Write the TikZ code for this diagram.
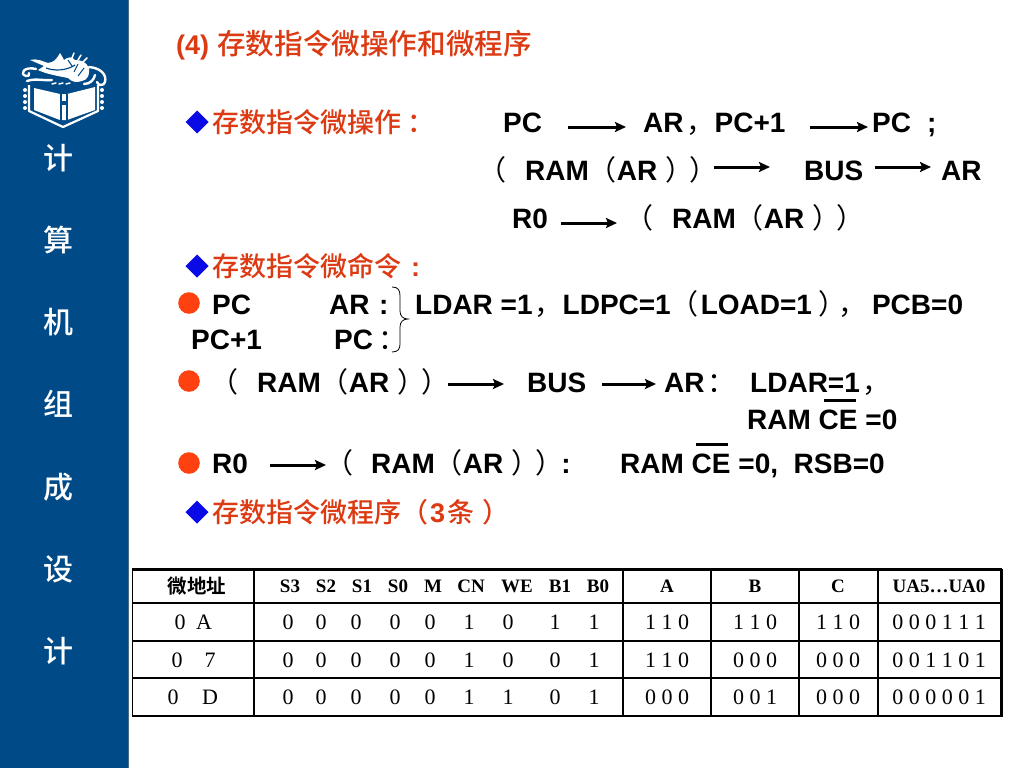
\documentclass[tikz,border=0pt]{standalone}
\usepackage{fontspec}
\setmainfont{Liberation Sans}
\newfontfamily\cj{Noto Sans CJK SC Medium}
\newfontfamily\cjrr{Noto Sans CJK SC}
\newcommand\pn[1]{{\mdseries\cjrr #1}}
\newfontfamily\cjb{Noto Sans CJK SC Bold}
\newfontfamily\tms{Liberation Serif}
\usetikzlibrary{arrows.meta}
\definecolor{side}{HTML}{004A87}
\definecolor{redt}{HTML}{DC3A12}
\definecolor{bul}{HTML}{FF4010}
\definecolor{dia}{HTML}{0A0AE6}
\tikzset{
  x=1pt,y=-1pt,
  blk/.style={anchor=base west,inner sep=0,font=\fontsize{28}{30}\selectfont\bfseries,text=black},
  redh/.style={anchor=base west,inner sep=0,font=\fontsize{27}{30}\selectfont\cj,text=redt},
  sidec/.style={anchor=center,inner sep=0,font=\fontsize{30}{32}\selectfont\cj,text=white},
  hd/.style={anchor=center,inner sep=0,font=\fontsize{19}{22}\selectfont\tms\bfseries},
  dt/.style={anchor=center,inner sep=0,font=\fontsize{22}{24}\selectfont\tms},
  flow/.style={line width=3pt,-{Stealth[length=11pt,width=10pt,inset=2pt]}},
  diam/.style={fill=dia},
  bullet/.style={fill=bul},
  grid/.style={line width=1.5pt,black},
  edge/.style={line width=3pt,black},
  logo/.style={white,line width=2.4pt,line cap=round,line join=round},
}
\newcommand\dm[2]{\fill[diam] (#1-11.5,#2) -- (#1,#2-11.5) -- (#1+11.5,#2) -- (#1,#2+11.5) -- cycle;}
\newcommand\RA{RAM\pn{（}AR\kern8pt\pn{）}\kern-4pt\pn{）}}
\begin{document}
\begin{tikzpicture}
\useasboundingbox (0,0) rectangle (1024,768);
\fill[white] (0,0) rectangle (1024,768);
% sidebar
\fill[side] (0,0) rectangle (128,768);
\draw[gray!60!side,line width=1pt] (128,0) -- (128,768);
% logo: book
\draw[white,line width=2.2pt,line join=round] (29,85) -- (29,111) -- (63,127) -- (98,111) -- (98,85);
\fill[white] (34,88) -- (60,94) -- (67,94) -- (95,87) -- (95,110) -- (67,120) -- (60,120) -- (34,110) -- cycle;
\fill[side] (59.5,94) rectangle (61.5,123);
\fill[side] (66,94) rectangle (68,123);
\fill[side] (61,101) rectangle (66.5,105);
\foreach \yy in {90,96,102,108}{
  \fill[white] (25,\yy) circle (2);
  \fill[white] (102,\yy) circle (2);
}
% logo: dragon
\fill[white] (30,60) .. controls (38,58) and (44,62) .. (48,63) .. controls (54,62) and (56,60) .. (60,53) .. controls (62,56) and (63,58) .. (64,60) .. controls (68,57) and (72,56) .. (75,60) .. controls (82,60) and (86,62) .. (89,68) .. controls (90,74) and (88,80) .. (82,81) .. controls (76,83) and (72,82) .. (68,78) .. controls (58,76) and (46,74) .. (38,70) -- (44,66) -- cycle;
\draw[side,line width=1.2pt] (46,68) .. controls (54,71) and (66,71) .. (75,65);
\draw[side,line width=1pt] (68,60) -- (72,66);
\draw[side,line width=1pt] (78,64) -- (74,72);
\draw[side,line width=1pt] (84,68) -- (78,76);
\draw[logo] (36,69) .. controls (24,66) and (19,74) .. (26,76) .. controls (28,77) and (30,75) .. (29,73);
\draw[logo] (27,81) .. controls (36,78) and (44,81) .. (52,80);
\draw[logo] (89,67) .. controls (100,68) and (107,74) .. (105,82) .. controls (104,86) and (98,86) .. (97,82);
\draw[logo] (84,84) .. controls (90,84) and (94,80) .. (95,75);
\draw[logo,line width=1.5pt] (52,84) -- (56,83) (59,84) -- (63,83) (66,84) -- (70,83);
\draw[logo,line width=1.5pt] (72,58) -- (74,53) (78,60) -- (81,55) (83,62) -- (87,58);
% sidebar text
\node[sidec] (s1) at (58,158) {计};
\node[sidec] (s2) at (58,240) {算};
\node[sidec] (s3) at (58,322) {机};
\node[sidec] (s4) at (58,404) {组};
\node[sidec] (s5) at (58,487) {成};
\node[sidec] (s6) at (58,569) {设};
\node[sidec] (s7) at (58,651) {计};
% title
\node[redh,font=\fontsize{27}{30}\selectfont\bfseries] (t0) at (176,55) {(4)};
\node[redh,font=\fontsize{28.6}{30}\selectfont\cj] (t1) at (217,55) {存数指令微操作和微程序};
% headings
\dm{197}{122}
\node[redh] (h1) at (212,132) {存数指令微操作\kern6pt ：};
\dm{197}{266}
\node[redh] (h2) at (212,276) {存数指令微命令\kern10pt\bfseries\fontspec{Liberation Sans}:};
\dm{197}{512}
\node[redh] (h3) at (212,522) {存数指令微程序（\kern2pt{\bfseries\fontspec{Liberation Sans}3}\kern2pt 条\kern8pt ）};
% first block
\node[blk] (a1) at (503,132) {PC};
\coordinate (a1s) at (568,127); \coordinate (a1e) at (626,127);
\draw[flow] (a1s) -- (a1e);
\node[blk] (a2) at (643,132) {AR\kern3pt\pn{，}PC+1};
\coordinate (a2s) at (810,127); \coordinate (a2e) at (868,127);
\draw[flow] (a2s) -- (a2e);
\node[blk] (a3) at (872,132) {PC};
\node[blk] (a4) at (927,132) {;};
\node[blk] (b0) at (478,180) {\pn{（}};
\node[blk] (b1) at (525,180) {\RA};
\coordinate (b1s) at (714,167); \coordinate (b1e) at (770,167);
\draw[flow] (b1s) -- (b1e);
\node[blk] (b2) at (804,180) {BUS};
\coordinate (b2s) at (875,167); \coordinate (b2e) at (931,167);
\draw[flow] (b2s) -- (b2e);
\node[blk] (b3) at (941,180) {AR};
\node[blk] (c1) at (512,228) {R0};
\coordinate (c1s) at (561,223); \coordinate (c1e) at (617,223);
\draw[flow] (c1s) -- (c1e);
\node[blk] (c2) at (625,228) {\pn{（}};
\node[blk] (c3) at (672,228) {\RA};
% second block
\fill[bullet] (189,303) circle (10.8);
\node[blk] (d1) at (212,314) {PC};
\node[blk] (d2) at (329,314) {AR};
\node[blk] (d3) at (379,314) {:};
\node[blk] (d4) at (415,314) {LDAR =1\kern2pt\pn{，}LDPC=1\pn{（}\kern2pt LOAD=1\kern6pt\pn{）}\kern-8pt\pn{，}\kern6pt PCB=0};
\node[blk] (e1) at (191,349) {PC+1};
\node[blk] (e2) at (334,349) {PC\kern5pt\pn{：}};
\draw[black,line width=0.8pt] (392,287) .. controls (398,287) and (400,290) .. (400,296) -- (400,311) .. controls (400,316) and (403,319) .. (408,319) .. controls (403,319) and (400,322) .. (400,327) -- (400,344) .. controls (400,349) and (398,352) .. (392,352);
\fill[bullet] (189,381) circle (10.8);
\node[blk] (f0) at (210,392) {\pn{（}};
\node[blk] (f1) at (257,392) {\RA};
\coordinate (f1s) at (448,384); \coordinate (f1e) at (504,384);
\draw[flow] (f1s) -- (f1e);
\node[blk] (f2) at (527,392) {BUS};
\coordinate (f2s) at (602,384); \coordinate (f2e) at (656,384);
\draw[flow] (f2s) -- (f2e);
\node[blk] (f3) at (664,392) {AR\kern3pt\pn{：}};
\node[blk] (f4) at (750,392) {LDAR=1\kern3pt\pn{，}};
\node[blk] (g1) at (747,429) {RAM CE =0};
\coordinate (g1s) at (824,400); \coordinate (g1e) at (856,400);
\draw[line width=3pt] (g1s) -- (g1e);
\fill[bullet] (189,463) circle (10.8);
\node[blk] (k1) at (212,473) {R0};
\coordinate (k1s) at (270,465); \coordinate (k1e) at (326,465);
\draw[flow] (k1s) -- (k1e);
\node[blk] (k2) at (325,473) {\pn{（}};
\node[blk] (k3) at (371,473) {\RA\kern-2pt :};
\node[blk] (k4) at (620,473) {RAM CE =0,\ \ RSB=0};
\coordinate (k4s) at (696,444); \coordinate (k4e) at (728,444);
\draw[line width=3pt] (k4s) -- (k4e);
% table
\draw[grid] (132,603) -- (1001,603);
\draw[grid] (132,641) -- (1001,641);
\draw[grid] (132,678) -- (1001,678);
\draw[grid] (254,570) -- (254,716);
\draw[grid] (623,570) -- (623,716);
\draw[grid] (711,570) -- (711,716);
\draw[grid] (799,570) -- (799,716);
\draw[grid] (878,570) -- (878,716);
\draw[edge] (132,569.5) -- (1002,569.5);
\draw[grid] (132,716) -- (1002,716);
\draw[grid] (132.5,569) -- (132.5,716);
\draw[edge] (1001,569) -- (1001,717);
% header
\node[hd,font=\fontsize{19.5}{22}\selectfont\cjb] (th0) at (197,586) {微地址};
\node[hd] (th1) at (290,586) {S3};
\node[hd] (th2) at (326,586) {S2};
\node[hd] (th3) at (362,586) {S1};
\node[hd] (th4) at (398,586) {S0};
\node[hd] (th5) at (433,586) {M};
\node[hd] (th6) at (471,586) {CN};
\node[hd] (th7) at (517,586) {WE};
\node[hd] (th8) at (560,586) {B1};
\node[hd] (th9) at (598,586) {B0};
\node[hd] (tha) at (667,586) {A};
\node[hd] (thb) at (755,586) {B};
\node[hd] (thc) at (838,586) {C};
\node[hd] (thd) at (939,586) {UA5…UA0};
% row 1
\node[dt] (r1a) at (180,622) {0}; \node[dt] (r1b) at (204,622) {A};
\node[dt] (r11) at (288,622) {0}; \node[dt] (r12) at (321,622) {0}; \node[dt] (r13) at (356,622) {0};
\node[dt] (r14) at (395,622) {0}; \node[dt] (r15) at (430,622) {0}; \node[dt] (r16) at (469,622) {1};
\node[dt] (r17) at (508,622) {0}; \node[dt] (r18) at (555,622) {1}; \node[dt] (r19) at (594,622) {1};
\node[dt] (r1c) at (667,622) {1 1 0}; \node[dt] (r1d) at (755,622) {1 1 0}; \node[dt] (r1e) at (838,622) {1 1 0};
\node[dt] (r1f) at (939,622) {0 0 0 1 1 1};
% row 2
\node[dt] (r2a) at (177,660) {0}; \node[dt] (r2b) at (210,660) {7};
\node[dt] (r21) at (288,660) {0}; \node[dt] (r22) at (321,660) {0}; \node[dt] (r23) at (356,660) {0};
\node[dt] (r24) at (395,660) {0}; \node[dt] (r25) at (430,660) {0}; \node[dt] (r26) at (469,660) {1};
\node[dt] (r27) at (508,660) {0}; \node[dt] (r28) at (555,660) {0}; \node[dt] (r29) at (594,660) {1};
\node[dt] (r2c) at (667,660) {1 1 0}; \node[dt] (r2d) at (755,660) {0 0 0}; \node[dt] (r2e) at (838,660) {0 0 0};
\node[dt] (r2f) at (939,660) {0 0 1 1 0 1};
% row 3
\node[dt] (r3a) at (173,697) {0}; \node[dt] (r3b) at (210,697) {D};
\node[dt] (r31) at (288,697) {0}; \node[dt] (r32) at (321,697) {0}; \node[dt] (r33) at (356,697) {0};
\node[dt] (r34) at (395,697) {0}; \node[dt] (r35) at (430,697) {0}; \node[dt] (r36) at (469,697) {1};
\node[dt] (r37) at (508,697) {1}; \node[dt] (r38) at (555,697) {0}; \node[dt] (r39) at (594,697) {1};
\node[dt] (r3c) at (667,697) {0 0 0}; \node[dt] (r3d) at (755,697) {0 0 1}; \node[dt] (r3e) at (838,697) {0 0 0};
\node[dt] (r3f) at (939,697) {0 0 0 0 0 1};
\end{tikzpicture}
\end{document}
